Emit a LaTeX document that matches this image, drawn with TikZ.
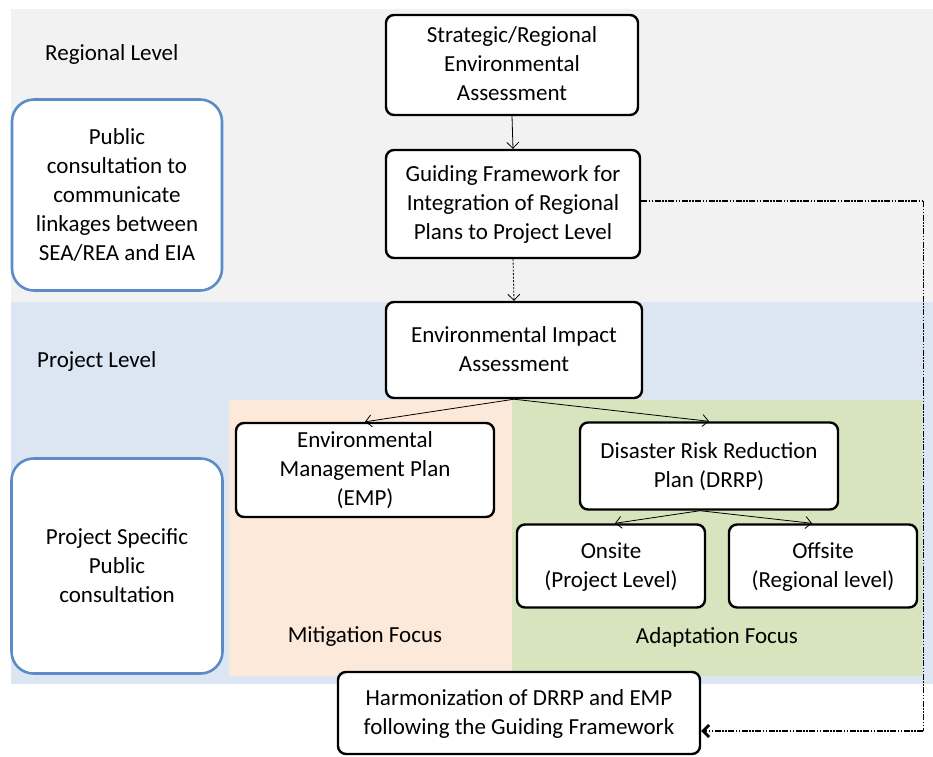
\documentclass[tikz,border=0pt]{standalone}
\usepackage{fontspec}
\setmainfont{Carlito}
\usetikzlibrary{arrows.meta}
\definecolor{bggray}{HTML}{F2F2F2}
\definecolor{bgblue}{HTML}{DCE6F2}
\definecolor{bgpeach}{HTML}{FDE9D9}
\definecolor{bggreen}{HTML}{D7E4BD}
\definecolor{pcblue}{HTML}{5B8CC8}
\tikzset{
  txt/.style={font=\fontsize{23}{29}\selectfont, align=center, inner sep=0pt},
  box/.style={txt, draw=black, line width=2.4pt, fill=white, rounded corners=8pt, text depth=2pt},
  pcbox/.style={txt, draw=pcblue, line width=2.6pt, fill=white, rounded corners=22pt},
  conn/.style={line width=0.8pt, -{Straight Barb[length=6pt,width=12pt]}},
  dotconn/.style={conn, dash pattern=on 2pt off 1.5pt},
  ddline/.style={dash pattern=on 6pt off 1.5pt on 1.5pt off 1.5pt on 1.5pt off 1.5pt}
}
\begin{document}
\begin{tikzpicture}[x=1pt,y=-1pt]
\useasboundingbox (0,0) rectangle (933,756);
% backgrounds
\fill[bggray] (11,9) rectangle (933,302);
\fill[bgblue] (11,302) rectangle (933,684);
\fill[bgpeach] (229,400) rectangle (512,676);
\fill[bggreen] (512,400) rectangle (922,676);
% level labels
\node[txt, anchor=west] (reglev) at (45,54) {Regional Level};
\node[txt, anchor=west] (projlev) at (37,361) {Project Level};
\node[txt] (mitig) at (365,637) {Mitigation Focus};
\node[txt] (adapt) at (717,637) {Adaptation Focus};
% public consultation boxes
\node[pcbox, minimum width=210, minimum height=191] (pc1) at (117,195)
  {Public\\consultation to\\communicate\\linkages between\\SEA/REA and EIA};
\node[pcbox, minimum width=211, minimum height=215] (pc2) at (117,566)
  {Project Specific\\Public\\consultation};
% main boxes
\node[box, minimum width=252, minimum height=100] (srea) at (512,65)
  {Strategic/Regional\\Environmental\\Assessment};
\node[box, minimum width=254, minimum height=108] (gf) at (513,204)
  {Guiding Framework for\\Integration of Regional\\Plans to Project Level};
\node[box, minimum width=256, minimum height=96] (eia) at (514,350)
  {Environmental Impact\\Assessment};
\node[box, minimum width=258, minimum height=94] (emp) at (365,470)
  {Environmental\\Management Plan\\(EMP)};
\node[box, minimum width=258, minimum height=87] (drrp) at (709,466)
  {Disaster Risk Reduction\\Plan (DRRP)};
\node[box, minimum width=188, minimum height=83] (onsite) at (611,566)
  {Onsite\\(Project Level)};
\node[box, minimum width=188, minimum height=83] (offsite) at (823,566)
  {Offsite\\(Regional level)};
\node[box, minimum width=362, minimum height=82] (harm) at (519,713)
  {Harmonization of DRRP and EMP\\following the Guiding Framework};
% connectors
\draw[conn] (srea.south) -- (gf.north);
\draw[dotconn] (gf.south) -- (eia.north);
\draw[conn] (eia.south) -- (emp.north);
\draw[conn] (eia.south) -- (drrp.north);
\draw[conn] ([xshift=-9pt]drrp.south) -- ([xshift=4pt]onsite.north);
\draw[conn] ([xshift=-9pt]drrp.south) -- ([xshift=-11pt]offsite.north);
\coordinate (c1) at (923,201);
\coordinate (c2) at (923,731);
\draw[ddline, line width=2.8pt] (gf.east |- c1) -- (c1);
\draw[ddline, line width=0.8pt] (c1) -- (c2);
\draw[ddline, line width=2.8pt, -{Straight Barb[length=6pt,width=12pt]}] (c2) -- (harm.east |- c2);
\end{tikzpicture}
\end{document}
